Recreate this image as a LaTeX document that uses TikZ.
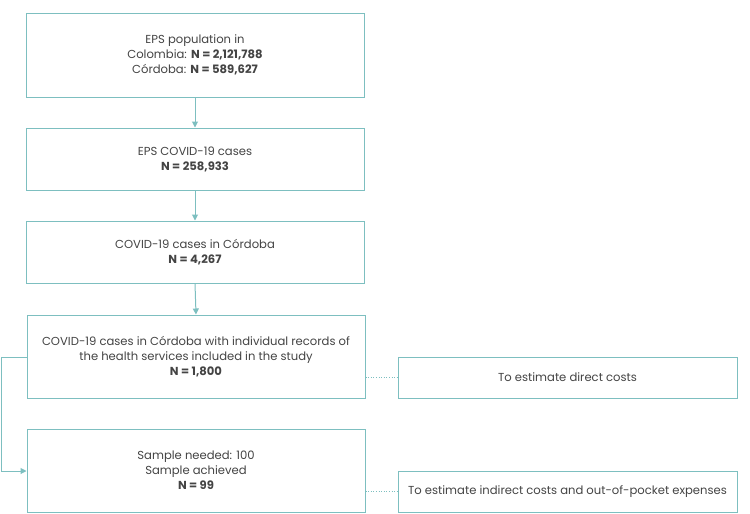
\documentclass[tikz,border=0pt]{standalone}
\usepackage{fontspec}
\setmainfont{Poppins}
\usetikzlibrary{arrows.meta}
\definecolor{teal1}{HTML}{7DBFC0}
\definecolor{txt}{HTML}{444444}
\tikzset{
  box/.style={draw=teal1, line width=1pt, fill=white, text=txt, align=center, font=\fontsize{11.6}{15}\selectfont, inner sep=0pt},
  arr/.style={draw=teal1, line width=1pt, -{Triangle[length=6pt,width=6pt]}},
  dots/.style={draw=teal1, line width=0.6pt, dotted}
}
\begin{document}
\begin{tikzpicture}[x=1pt,y=-1pt]
\useasboundingbox (0,0) rectangle (750,514);
\node[box, minimum width=338pt, minimum height=84pt] (b1) at (195,55) {EPS population in\\Colombia: \textbf{N = 2,121,788}\\Córdoba: \textbf{N = 589,627}};
\node[box, minimum width=338pt, minimum height=62pt] (b2) at (195,159) {EPS COVID-19 cases\\\textbf{N = 258,933}};
\node[box, minimum width=338pt, minimum height=62pt] (b3) at (195,252) {COVID-19 cases in Córdoba\\\textbf{N = 4,267}};
\node[box, minimum width=338pt, minimum height=83pt] (b4) at (196,356.5) {COVID-19 cases in Córdoba with individual records of\\the health services included in the study\\\textbf{N = 1,800}};
\node[box, minimum width=338pt, minimum height=83pt] (b5) at (196,470.5) {Sample needed: 100\\Sample achieved\\\textbf{N = 99}};
\node[box, minimum width=339pt, minimum height=41pt] (ra) at (567.5,377.5) {To estimate direct costs};
\node[box, minimum width=339pt, minimum height=41pt] (rb) at (567.5,491.5) {To estimate indirect costs and out-of-pocket expenses};
\draw[arr] (b1.south) -- (b2.north);
\draw[arr] (b2.south) -- (b3.north);
\draw[arr] (b3.south) -- (b4.north);
\coordinate (c1) at (1,357);
\coordinate (c2) at (1,471);
\draw[arr] (b4.west |- c1) -- (c1) -- (c2) -- (b5.west |- c2);
\draw[dots] (b4.east |- ra.west) -- (ra.west);
\draw[dots] (b5.east |- rb.west) -- (rb.west);
\end{tikzpicture}
\end{document}
